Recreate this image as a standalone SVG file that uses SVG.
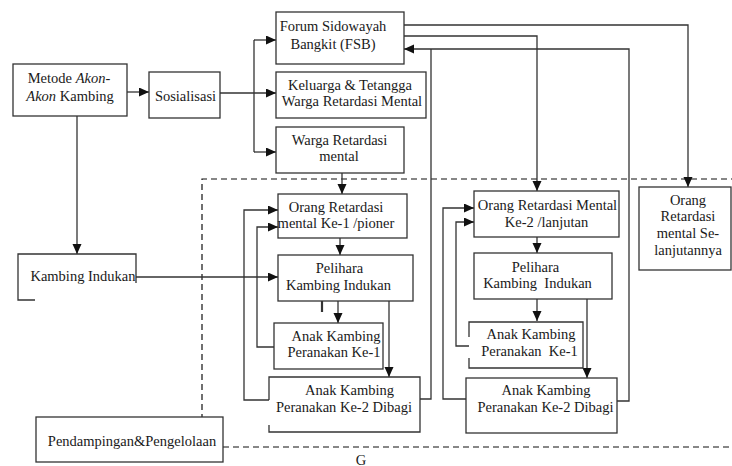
<svg xmlns="http://www.w3.org/2000/svg" width="732" height="466" viewBox="0 0 732 466">
<defs>
<marker id="ah" markerUnits="userSpaceOnUse" markerWidth="11" markerHeight="10" refX="10" refY="4.5" orient="auto">
<path d="M0,0 L10,4.5 L0,9 z" fill="#111"/>
</marker>
<style>
.box{fill:#fff;stroke:#333;stroke-width:1.3}
.ln{fill:none;stroke:#333;stroke-width:1.3}
.dash{fill:none;stroke:#111;stroke-width:1.2;stroke-dasharray:6,4}
text{font-family:"Liberation Serif","Times New Roman",serif;font-size:14.5px;fill:#1a1a1a;text-anchor:middle}
</style>
</defs>
<rect width="732" height="466" fill="#fff"/>
<g id="connectors">
<path class="dash" d="M202,420 V179 H732"/>
<path class="dash" d="M223,447 H732"/>
<path class="ln" d="M127,92 H149" marker-end="url(#ah)"/>
<path class="ln" d="M220,93 H276" marker-end="url(#ah)"/>
<path class="ln" d="M254,40 V152"/>
<path class="ln" d="M254,40 H276" marker-end="url(#ah)"/>
<path class="ln" d="M254,152 H276" marker-end="url(#ah)"/>
<path class="ln" d="M404,25 H688 V187" marker-end="url(#ah)"/>
<path class="ln" d="M404,36 H537 V191" marker-end="url(#ah)"/>
<path class="ln" d="M617,401 H629 V49 H404" marker-end="url(#ah)"/>
<path class="ln" d="M420,399 H431 V49"/>
<path class="ln" d="M342,173 V194" marker-end="url(#ah)"/>
<path class="ln" d="M77,116 V254" marker-end="url(#ah)"/>
<path class="ln" d="M136,277 H278" marker-end="url(#ah)"/>
<path class="ln" d="M340,238 V255" marker-end="url(#ah)"/>
<path class="ln" d="M338,301 V323" marker-end="url(#ah)"/>
<path class="ln" d="M389,301 V377" marker-end="url(#ah)"/>
<path class="ln" d="M322,293 V312" style="stroke-width:2.2"/>
<path class="ln" d="M269,400 H244 V210 H278" marker-end="url(#ah)"/>
<path class="ln" d="M274,347 H257 V227 H278" marker-end="url(#ah)"/>
<path class="ln" d="M537,237 V253" marker-end="url(#ah)"/>
<path class="ln" d="M537,299 V321" marker-end="url(#ah)"/>
<path class="ln" d="M587,299 V378" marker-end="url(#ah)"/>
<path class="ln" d="M466,399 H443 V208 H474" marker-end="url(#ah)"/>
<path class="ln" d="M469,346 H456 V222 H474" marker-end="url(#ah)"/>
</g>
<g id="metode">
<rect class="box" x="13" y="64" width="114" height="52"/>
<text x="69" y="83">Metode <tspan font-style="italic">Akon-</tspan></text>
<text x="70" y="101"><tspan font-style="italic">Akon</tspan> Kambing</text>
</g>
<g id="sosialisasi">
<rect class="box" x="149" y="72" width="71" height="46"/>
<text x="185.5" y="101">Sosialisasi</text>
</g>
<g id="forum">
<rect class="box" x="276" y="12" width="128" height="52"/>
<text x="333" y="31">Forum Sidowayah</text>
<text x="333" y="49">Bangkit (FSB)</text>
</g>
<g id="keluarga">
<rect class="box" x="276" y="72" width="150" height="46"/>
<text x="350" y="90">Keluarga &amp; Tetangga</text>
<text x="352" y="106">Warga Retardasi Mental</text>
</g>
<g id="warga">
<rect class="box" x="276" y="127" width="128" height="46"/>
<text x="339.5" y="145">Warga Retardasi</text>
<text x="339" y="161">mental</text>
</g>
<g id="kambing-indukan">
<path class="ln" d="M35,300 H18 V254 H136 V283"/>
<text x="83" y="281">Kambing Indukan</text>
</g>
<g id="pendampingan">
<rect class="box" x="36" y="417" width="187" height="45"/>
<text x="132" y="446">Pendampingan&amp;Pengelolaan</text>
</g>
<g id="orm1">
<rect class="box" x="278" y="194" width="129" height="44"/>
<text x="336" y="212">Orang Retardasi</text>
<text x="336" y="228">mental Ke-1 /pioner</text>
</g>
<g id="pelihara1">
<rect class="box" x="278" y="255" width="135" height="46"/>
<text x="339.5" y="273">Pelihara</text>
<text x="338.5" y="290">Kambing Indukan</text>
</g>
<g id="anak1">
<rect class="box" x="274" y="323" width="109" height="46"/>
<text x="336" y="341">Anak Kambing</text>
<text x="334" y="357">Peranakan Ke-1</text>
</g>
<g id="dibagi1">
<path class="ln" d="M269,400 V377 H420 V432 H269 V425"/>
<text x="349.5" y="395">Anak Kambing</text>
<text x="344" y="412">Peranakan Ke-2 Dibagi</text>
</g>
<g id="orm2">
<rect class="box" x="474" y="191" width="145" height="46"/>
<text x="547.5" y="210">Orang Retardasi Mental</text>
<text x="546.5" y="227">Ke-2 /lanjutan</text>
</g>
<g id="pelihara2">
<rect class="box" x="474" y="253" width="138" height="46"/>
<text x="535.5" y="272">Pelihara</text>
<text x="537.5" y="288" xml:space="preserve">Kambing  Indukan</text>
</g>
<g id="anak2">
<path class="ln" d="M469,337 V322 H583 V368 H469 V358"/>
<text x="531" y="339">Anak Kambing</text>
<text x="529.5" y="356" xml:space="preserve">Peranakan  Ke-1</text>
</g>
<g id="dibagi2">
<rect class="box" x="466" y="378" width="151" height="55"/>
<text x="546" y="395">Anak Kambing</text>
<text x="545.5" y="412">Peranakan Ke-2 Dibagi</text>
</g>
<g id="selanjutnya">
<rect class="box" x="639" y="187" width="92" height="83"/>
<text x="688" y="205">Orang</text>
<text x="688" y="221">Retardasi</text>
<text x="688" y="238">mental Se-</text>
<text x="688" y="255">lanjutannya</text>
</g>
<text x="361" y="465">G</text>
</svg>
